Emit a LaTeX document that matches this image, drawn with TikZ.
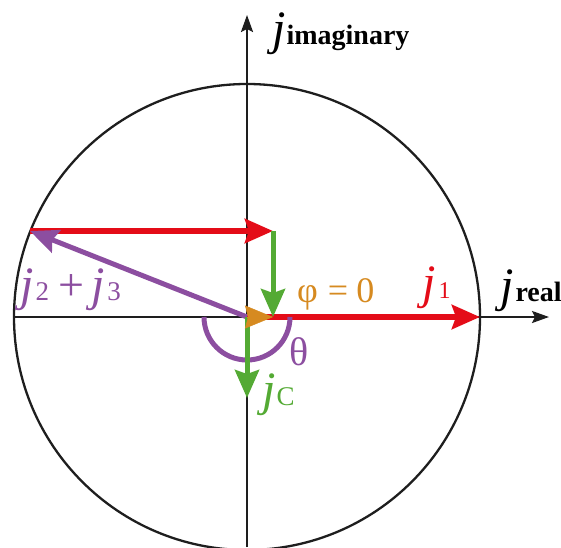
\documentclass[tikz,border=0pt]{standalone}
\usepackage{fontspec}
\setmainfont{Liberation Serif}
\usetikzlibrary{arrows.meta}
\definecolor{vecRed}{RGB}{228,12,24}
\definecolor{vecGreen}{RGB}{84,170,52}
\definecolor{vecPurple}{RGB}{140,78,160}
\definecolor{vecOrange}{RGB}{214,138,32}
\definecolor{axisBlack}{RGB}{30,30,30}

\begin{document}
\begin{tikzpicture}[x=1pt, y=1pt,
    axisStyle/.style={line width=2.3pt, draw=axisBlack, -{Stealth[length=17pt, width=12pt, inset=3pt]}},
    vecArrow/.style={line width=5.5pt, -{Stealth[length=28pt, width=24pt, inset=4pt]}},
    labelText/.style={anchor=base west, inner sep=0pt}
]
    \useasboundingbox (0,0) rectangle (561,547);

    % points of the phasor diagram
    \coordinate (O) at (247,230);
    \coordinate (A) at (30,316);
    \coordinate (B) at (273,316);
    \coordinate (C) at (273,230);
    \coordinate (R) at (480,230);
    \coordinate (D) at (247,149);
    \coordinate (xl) at (14,230);
    \coordinate (xr) at (549,230);
    \coordinate (yb) at (247,0);
    \coordinate (yt) at (247,532);

    % axes and circle
    \draw[line width=2.3pt, draw=axisBlack] (O) circle[radius=233pt];
    \draw[axisStyle] (xl) -- (xr);
    \draw[axisStyle] (yb) -- (yt);

    % vectors
    \draw[vecArrow, vecRed, line width=6pt] (O) -- (R);
    \draw[vecArrow, vecRed, line width=6pt] (A) -- (B);
    \draw[vecPurple, line width=5pt] (204,230) arc[start angle=180, end angle=360, radius=43pt];
    \draw[vecArrow, vecPurple, line width=5pt] (O) -- (A);
    \draw[vecArrow, vecGreen, line width=5pt] (B) -- (C);
    \draw[vecArrow, vecGreen, line width=5pt] (O) -- (D);
    \draw[vecOrange, line width=0.5pt, -{Stealth[length=28pt, width=23pt, inset=3pt]}] (O) -- (C);

    % labels
    \node[labelText, font=\fontsize{28}{28}\selectfont\bfseries] (imagLabel) at (272,502) {{\fontsize{48}{48}\selectfont\itshape\mdseries j}\kern1pt imaginary};
    \node[labelText, font=\fontsize{28}{28}\selectfont\bfseries] (realLabel) at (500,246) {{\fontsize{48}{48}\selectfont\itshape\mdseries j}\kern2pt real};
    \node[labelText, text=vecOrange, font=\fontsize{36}{36}\selectfont] (phiLabel) at (297,245) {φ\hspace{10pt}=\hspace{8pt}0};
    \node[labelText, text=vecRed, font=\fontsize{24}{24}\selectfont] (jOneLabel) at (422,249) {{\fontsize{48}{48}\selectfont\itshape j}\kern3pt 1};
    \node[labelText, text=vecPurple, font=\fontsize{27}{27}\selectfont] (jSumLabel) at (20,247) {{\fontsize{48}{48}\selectfont\itshape j}\kern2pt 2\hspace{9pt}{\fontsize{46}{46}\selectfont +}\hspace{8pt}{\fontsize{48}{48}\selectfont\itshape j}\kern2pt 3};
    \node[labelText, text=vecPurple, font=\fontsize{40}{40}\selectfont] (thetaLabel) at (289,182) {θ};
    \node[labelText, text=vecGreen, font=\fontsize{27}{27}\selectfont] (jCLabel) at (262,142) {{\fontsize{48}{48}\selectfont\itshape j}\kern1pt C};
\end{tikzpicture}
\end{document}
